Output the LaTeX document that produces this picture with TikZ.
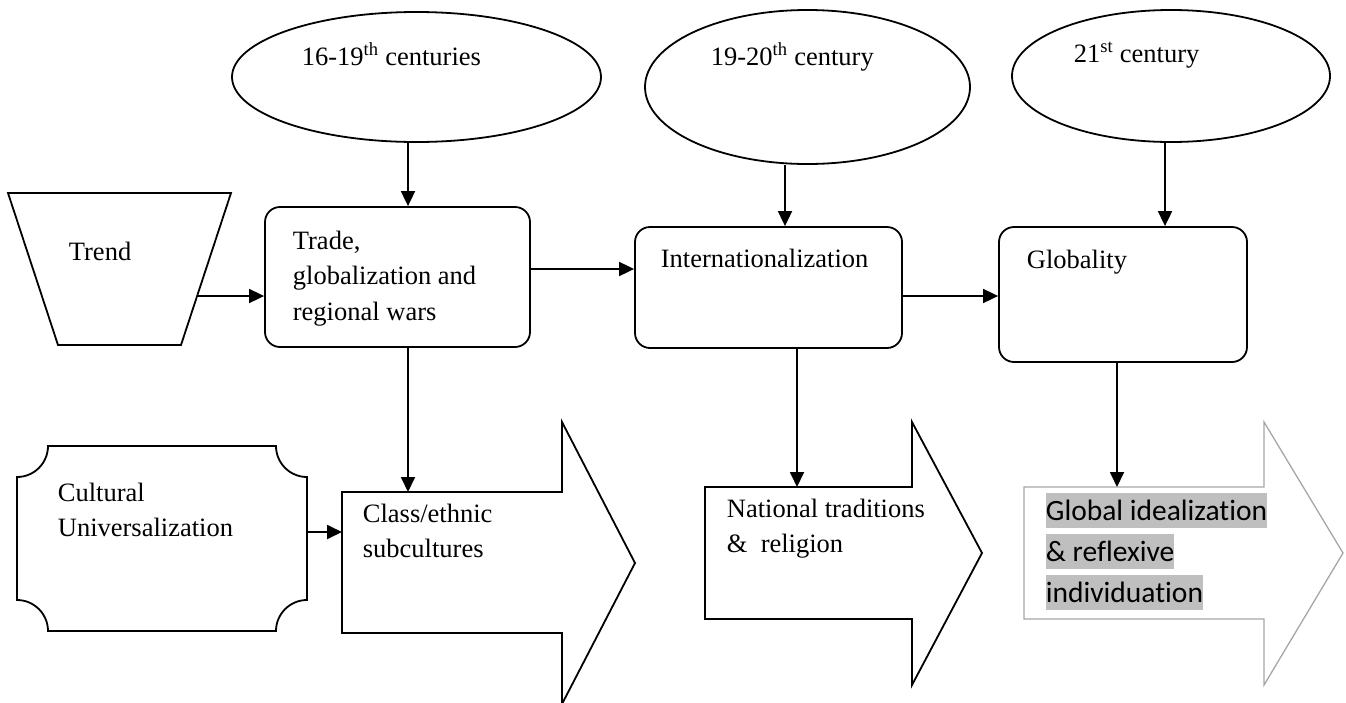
\documentclass[tikz,border=0pt]{standalone}
\usepackage{fontspec}
\setmainfont{Liberation Serif}
\newfontfamily\calib[Ligatures=NoCommon]{Carlito}
\usetikzlibrary{arrows.meta,shapes.geometric,calc}
\definecolor{hl}{RGB}{191,191,191}
\definecolor{outl}{RGB}{166,166,166}
\newcommand\mlines[1]{\vtop{\baselineskip=35.5pt\lineskiplimit=-100pt\halign{##\hfil\cr#1\crcr}}}
\begin{document}
\begin{tikzpicture}[x=1pt,y=-1pt,line width=1.8pt,
  arr/.style={-{Triangle[length=15pt,width=14pt]},line width=1.8pt},
  box/.style={draw,rounded corners=15pt,inner sep=0pt,rectangle},
  oval/.style={draw,ellipse,inner sep=0pt},
  txt/.style={anchor=base west,inner sep=0pt,font=\fontsize{26.5}{35.5}\selectfont},
  gtxt/.style={anchor=base west,inner sep=0pt,fill=hl,text height=27.5pt,text depth=8pt,font=\calib\fontsize{29.5}{41}\selectfont},
  shp/.style={draw,line width=1.8pt,line join=miter}]
\useasboundingbox (0,0) rectangle (1346,702);

% ellipses
\node[oval,minimum width=369,minimum height=130] (e1) at (416.5,77) {};
\node[oval,minimum width=325,minimum height=154] (e2) at (807.5,87) {};
\node[oval,minimum width=318,minimum height=132] (e3) at (1171,76) {};
\node[txt] (l1) at (301,65) {16-19\textsuperscript{th} centuries};
\node[txt] (l2) at (710,65) {19-20\textsuperscript{th} century};
\node[txt] (l3) at (1073,62) {21\textsuperscript{st} century};

% trapezoid
\draw[shp] (8,193) -- (231,193) -- (181,345) -- (58,345) -- cycle;
\node[txt] (tr) at (68,260) {Trend};
\coordinate (trR) at (198,296);

% boxes
\node[box,minimum width=265,minimum height=140] (b1) at (397.5,277) {};
\node[box,minimum width=267,minimum height=121] (b2) at (768.5,287.5) {};
\node[box,minimum width=248,minimum height=135] (b3) at (1123,294.5) {};
\node[txt] (tb1) at (292,249) {\mlines{Trade,\cr globalization and\cr regional wars}};
\node[txt] (tb2) at (660,267) {Internationalization};
\node[txt] (tb3) at (1026,268) {Globality};

% plaque
\draw[shp] (48,446) -- (276,446) .. controls (276,463.1) and (289.9,477) .. (307,477)
  -- (307,600) .. controls (289.9,600) and (276,613.9) .. (276,631)
  -- (48,631) .. controls (48,613.9) and (34.1,600) .. (17,600)
  -- (17,477) .. controls (34.1,477) and (48,463.1) .. (48,446) -- cycle;
\node[txt] (tcu) at (57,501) {\mlines{Cultural\cr Universalization}};
\coordinate (cuR) at (307,532);

% block arrows
\draw[shp] (342,492) -- (562,492) -- (562,422) -- (635,563) -- (562,704) -- (562,633) -- (342,633) -- cycle;
\node[txt] (ta1) at (362,522) {\mlines{Class/ethnic\cr subcultures}};
\draw[shp] (705,487) -- (912,487) -- (912,422) -- (982,553) -- (912,685) -- (912,619) -- (705,619) -- cycle;
\node[txt] (ta2) at (726,517) {\mlines{National traditions\cr \&\ \ religion}};
\draw[shp,draw=outl,line width=1.3pt] (1024,487) -- (1264,487) -- (1264,422) -- (1343,553) -- (1264,685) -- (1264,619) -- (1024,619) -- cycle;
\node[gtxt] (g1) at (1045,520) {Global idealization};
\node[gtxt] (g2) at (1045,561) {\& reflexive};
\node[gtxt] (g3) at (1045,602) {individuation};

\coordinate (a1in) at (342,532);
\coordinate (a1top) at (408,492);
\coordinate (a2top) at (797,487);
\coordinate (a3top) at (1117,487);
\coordinate (h12) at (0,269);
\coordinate (h23) at (0,296);

% connectors
\draw[arr] ([xshift=-8.5pt]e1.south) -- ([xshift=-8.5pt]e1.south |- b1.north);
\draw[arr] ([xshift=-22.5pt]e2.south) -- ([xshift=-22.5pt]e2.south |- b2.north);
\draw[arr] ([xshift=-6pt]e3.south) -- ([xshift=-6pt]e3.south |- b3.north);
\draw[arr] (trR) -- (trR -| b1.west);
\draw[arr] (b1.east |- h12) -- (b2.west |- h12);
\draw[arr] (b2.east |- h23) -- (b3.west |- h23);
\draw[arr] (b1.south -| a1top) -- (a1top);
\draw[arr] (b2.south -| a2top) -- (a2top);
\draw[arr] (b3.south -| a3top) -- (a3top);
\draw[arr] (cuR) -- (a1in);
\end{tikzpicture}
\end{document}
